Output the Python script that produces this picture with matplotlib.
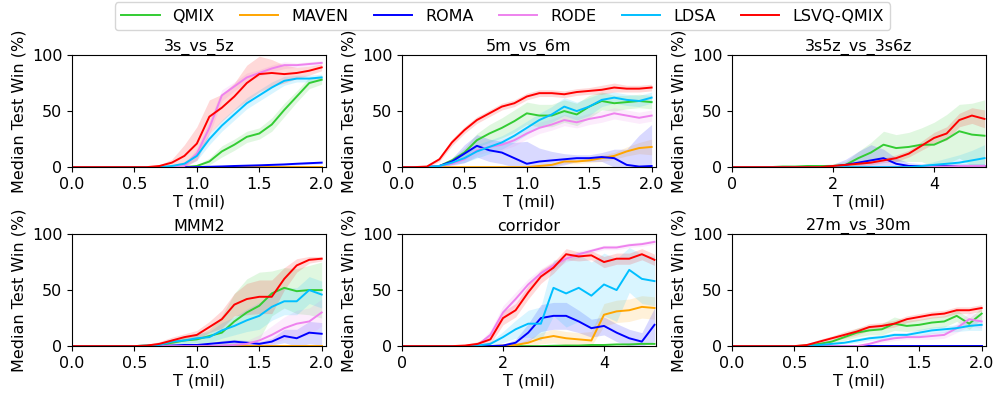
import matplotlib
matplotlib.use("Agg")
import matplotlib.pyplot as plt
import numpy as np

# algoritmalar ve renkleri
algos = ["QMIX", "MAVEN", "ROMA", "RODE", "LDSA", "LSVQ-QMIX"]
colors = ["#33cc33", "#ffa500", "#0000ff", "#ee82ee", "#00bfff", "#ff0000"]
titles = ["3s_vs_5z", "5m_vs_6m", "3s5z_vs_3s6z", "MMM2", "corridor", "27m_vs_30m"]

# zaman eksenleri (milyon adim)
t2 = [0.0, 0.1, 0.2, 0.3, 0.4, 0.5, 0.6, 0.7, 0.8, 0.9, 1.0,
      1.1, 1.2, 1.3, 1.4, 1.5, 1.6, 1.7, 1.8, 1.9, 2.0]
t5 = [0.0, 0.25, 0.5, 0.75, 1.0, 1.25, 1.5, 1.75, 2.0, 2.25, 2.5,
      2.75, 3.0, 3.25, 3.5, 3.75, 4.0, 4.25, 4.5, 4.75, 5.0]

# --- 3s_vs_5z ---
p1_qmix = [0]*10 + [1, 5, 14, 20, 27, 30, 38, 51, 63, 75, 78]
p1_qmix_sd = [0]*10 + [1, 3, 5, 5, 5, 5, 6, 6, 5, 5, 4]
p1_maven = [0]*21
p1_maven_sd = [0]*21
p1_roma = [0]*11 + [0.3, 0.6, 1, 1.3, 1.6, 2, 2.4, 3, 3.5, 4]
p1_roma_sd = [0]*11 + [0.3, 0.5, 0.5, 0.5, 0.5, 0.8, 0.8, 1, 1, 1]
p1_rode = [0]*9 + [1, 12, 35, 64, 72, 80, 84, 88, 91, 91, 92, 93]
p1_rode_sd = [0]*9 + [1, 5, 6, 5, 4, 4, 3, 3, 3, 2, 2, 2]
p1_ldsa = [0]*8 + [1, 3, 10, 25, 37, 47, 57, 64, 71, 77, 79, 79, 80]
p1_ldsa_sd = [0]*8 + [1, 2, 4, 5, 5, 5, 5, 5, 5, 4, 3, 3, 3]
p1_lsvq = [0]*7 + [1, 4, 10, 21, 45, 53, 63, 75, 83, 84, 83, 84, 86, 89]
p1_lsvq_sd = [0]*7 + [1, 3, 10, 15, 15, 12, 12, 16, 16, 12, 8, 5, 4, 3]

# --- 5m_vs_6m ---
p2_qmix = [0, 0, 0, 1, 6, 13, 24, 30, 35, 41, 48, 46, 46, 50, 47, 54, 59, 57, 58, 59, 58]
p2_qmix_sd = [0, 0, 0, 1, 2, 4, 6, 8, 9, 10, 10, 10, 10, 10, 10, 10, 8, 7, 6, 6, 6]
p2_maven = [0]*10 + [0, 1, 2, 5, 5, 6, 8, 10, 14, 17, 18]
p2_maven_sd = [0]*10 + [0, 1, 1, 2, 2, 2, 3, 3, 4, 5, 7]
p2_roma = [0, 0, 0, 1, 5, 12, 19, 15, 13, 8, 3, 5, 6, 7, 8, 8, 9, 8, 2, 0.5, 1]
p2_roma_sd = [0, 0, 0, 1, 3, 8, 10, 10, 10, 14, 20, 12, 8, 5, 3, 3, 4, 8, 14, 28, 37]
p2_rode = [0, 0, 0, 1, 3, 7, 15, 18, 20, 24, 30, 35, 38, 42, 40, 43, 45, 48, 46, 44, 46]
p2_rode_sd = [0, 0, 0, 1, 2, 3, 4, 4, 5, 5, 5, 5, 5, 5, 5, 5, 5, 5, 5, 5, 5]
p2_ldsa = [0, 0, 0, 1, 4, 8, 14, 18, 22, 28, 35, 42, 47, 54, 50, 54, 60, 62, 60, 59, 62]
p2_ldsa_sd = [0, 0, 0, 1, 2, 4, 6, 6, 6, 6, 6, 6, 7, 8, 8, 8, 6, 5, 5, 5, 5]
p2_lsvq = [0, 0, 0.5, 7, 22, 33, 42, 48, 54, 57, 63, 66, 66, 65, 67, 68, 69, 71, 70, 70, 71]
p2_lsvq_sd = [0, 0, 0.5, 2, 3, 3, 3, 3, 3, 3, 3, 3, 3, 3, 3, 3, 4, 4, 3, 3, 3]

# --- 3s5z_vs_3s6z ---
p3_qmix = [0, 0, 0, 0, 0.5, 0.5, 1, 1, 1, 2, 8, 13, 20, 17, 18, 20, 20, 25, 32, 29, 28]
p3_qmix_sd = [0, 0, 0, 0, 1, 1, 1, 1, 2, 3, 6, 9, 12, 12, 13, 15, 20, 22, 24, 28, 32]
p3_maven = [0]*21
p3_maven_sd = [0]*21
p3_roma = [0]*8 + [0.5, 2, 4, 6, 8, 3, 1, 1, 1, 1, 1, 1, 1]
p3_roma_sd = [0]*8 + [2, 5, 10, 14, 8, 5, 3, 2, 2, 2, 2, 2, 2]
p3_rode = [0]*16 + [0.5, 0.5, 1, 1, 1]
p3_rode_sd = [0]*16 + [0.5, 0.5, 1, 1, 1]
p3_ldsa = [0]*15 + [1, 2, 3, 4, 6, 8]
p3_ldsa_sd = [0]*15 + [1, 3, 5, 7, 9, 12]
p3_lsvq = [0]*8 + [1, 2, 3, 4, 6, 8, 12, 19, 26, 30, 42, 46, 43]
p3_lsvq_sd = [0]*8 + [1, 1, 2, 2, 2, 3, 3, 4, 5, 6, 6, 7, 8]

# --- MMM2 ---
p4_qmix = [0, 0, 0, 0, 0, 0, 0.5, 1, 3, 5, 6, 9, 12, 22, 30, 36, 47, 52, 49, 50, 50]
p4_qmix_sd = [0, 0, 0, 0, 0, 0, 1, 1, 2, 3, 4, 6, 15, 25, 30, 30, 20, 18, 20, 22, 25]
p4_maven = [0]*21
p4_maven_sd = [0]*21
p4_roma = [0]*8 + [0.5, 1, 1, 2, 3, 4, 3, 2, 4, 9, 7, 12, 11]
p4_roma_sd = [0]*8 + [0.5, 1, 1, 1, 2, 2, 2, 2, 3, 6, 8, 10, 10]
p4_rode = [0]*12 + [0.5, 1, 2, 5, 10, 16, 20, 22, 30]
p4_rode_sd = [0]*12 + [1, 2, 3, 5, 8, 10, 12, 12, 12]
p4_ldsa = [0, 0, 0, 0, 0, 0, 0.5, 1, 4, 5, 7, 8, 14, 18, 23, 27, 35, 40, 40, 50, 46]
p4_ldsa_sd = [0, 0, 0, 0, 0, 0, 1, 1, 2, 3, 4, 5, 7, 8, 10, 12, 12, 12, 12, 12, 12]
p4_lsvq = [0]*6 + [0.5, 2, 5, 8, 10, 17, 24, 37, 42, 44, 44, 60, 72, 77, 78]
p4_lsvq_sd = [0, 0, 0, 0, 0, 1, 1, 2, 3, 3, 4, 5, 8, 10, 14, 15, 15, 10, 6, 3, 2]

# --- corridor ---
p5_qmix = [0]*12 + [0.3, 0.5, 0.5, 1, 1, 1.5, 1.5, 2, 2]
p5_qmix_sd = [0]*12 + [0.3, 0.5, 0.5, 0.5, 0.5, 0.5, 0.5, 0.5, 0.5]
p5_maven = [0]*8 + [0.5, 1, 3, 7, 9, 7, 6, 5, 28, 31, 32, 35, 34]
p5_maven_sd = [0]*8 + [1, 1, 3, 5, 6, 6, 6, 8, 10, 10, 10, 10, 10]
p5_roma = [0]*8 + [0.5, 3, 12, 25, 27, 27, 22, 16, 18, 12, 7, 4, 19]
p5_roma_sd = [0]*8 + [1, 3, 8, 12, 12, 12, 10, 8, 8, 8, 8, 8, 15]
p5_rode = [0]*6 + [1, 10, 30, 42, 55, 65, 72, 78, 82, 85, 88, 88, 90, 91, 93]
p5_rode_sd = [0]*6 + [1, 4, 6, 6, 5, 4, 4, 3, 3, 2, 2, 2, 2, 2, 2]
p5_ldsa = [0]*6 + [0.5, 2, 8, 15, 20, 20, 52, 47, 52, 45, 55, 50, 68, 60, 58]
p5_ldsa_sd = [0]*6 + [1, 2, 5, 8, 12, 15, 25, 30, 30, 30, 28, 28, 20, 22, 22]
p5_lsvq = [0]*5 + [0.5, 2, 6, 25, 32, 48, 62, 70, 82, 80, 81, 75, 78, 78, 82, 77]
p5_lsvq_sd = [0]*5 + [1, 2, 4, 6, 6, 6, 6, 5, 5, 4, 4, 5, 5, 5, 5, 5]

# --- 27m_vs_30m ---
p6_qmix = [0, 0, 0, 0, 0, 0, 0.5, 2, 4, 8, 12, 14, 15, 20, 18, 19, 21, 22, 27, 20, 29]
p6_qmix_sd = [0]*6 + [1, 1, 2, 3, 4, 4, 5, 6, 5, 5, 5, 5, 5, 5, 5]
p6_maven = [0]*21
p6_maven_sd = [0]*21
p6_roma = [0]*21
p6_roma_sd = [0]*21
p6_rode = [0]*11 + [2, 5, 7, 8, 8, 9, 10, 16, 24, 22]
p6_rode_sd = [0]*11 + [1, 2, 2, 2, 2, 3, 3, 4, 6, 6]
p6_ldsa = [0]*7 + [1, 2, 3, 5, 7, 8, 10, 10, 12, 14, 15, 16, 18, 19]
p6_ldsa_sd = [0]*7 + [1, 1, 1, 2, 2, 2, 2, 2, 3, 3, 3, 3, 4, 5]
p6_lsvq = [0, 0, 0, 0, 0, 0, 1, 4, 7, 10, 13, 17, 18, 20, 24, 26, 28, 29, 32, 32, 34]
p6_lsvq_sd = [0]*5 + [0.5, 1, 2, 2, 3, 3, 3, 3, 3, 3, 3, 3, 3, 3, 3, 3]

panels = [
    (t2, [p1_qmix, p1_maven, p1_roma, p1_rode, p1_ldsa, p1_lsvq],
     [p1_qmix_sd, p1_maven_sd, p1_roma_sd, p1_rode_sd, p1_ldsa_sd, p1_lsvq_sd]),
    (t2, [p2_qmix, p2_maven, p2_roma, p2_rode, p2_ldsa, p2_lsvq],
     [p2_qmix_sd, p2_maven_sd, p2_roma_sd, p2_rode_sd, p2_ldsa_sd, p2_lsvq_sd]),
    (t5, [p3_qmix, p3_maven, p3_roma, p3_rode, p3_ldsa, p3_lsvq],
     [p3_qmix_sd, p3_maven_sd, p3_roma_sd, p3_rode_sd, p3_ldsa_sd, p3_lsvq_sd]),
    (t2, [p4_qmix, p4_maven, p4_roma, p4_rode, p4_ldsa, p4_lsvq],
     [p4_qmix_sd, p4_maven_sd, p4_roma_sd, p4_rode_sd, p4_ldsa_sd, p4_lsvq_sd]),
    (t5, [p5_qmix, p5_maven, p5_roma, p5_rode, p5_ldsa, p5_lsvq],
     [p5_qmix_sd, p5_maven_sd, p5_roma_sd, p5_rode_sd, p5_ldsa_sd, p5_lsvq_sd]),
    (t2, [p6_qmix, p6_maven, p6_roma, p6_rode, p6_ldsa, p6_lsvq],
     [p6_qmix_sd, p6_maven_sd, p6_roma_sd, p6_rode_sd, p6_ldsa_sd, p6_lsvq_sd]),
]

fig = plt.figure(figsize=(9.95, 3.96), dpi=100)
lefts = [0.0724, 0.404, 0.7357]
bottoms = [0.578, 0.126]
fs = 11.5

for i, (t, meds, sds) in enumerate(panels):
    ax = fig.add_axes([lefts[i % 3], bottoms[i // 3], 0.2553, 0.283])
    t = np.array(t)
    for name, c, m, s in zip(algos, colors, meds, sds):
        m = np.array(m, dtype=float)
        s = np.array(s, dtype=float)
        ax.fill_between(t, np.clip(m - s, 0, 100), np.clip(m + s, 0, 100),
                        color=c, alpha=0.15, linewidth=0)
        ax.plot(t, m, color=c, linewidth=1.4, label=name)
    ax.set_ylim(0, 100)
    ax.set_yticks([0, 50, 100])
    if t[-1] > 3:
        ax.set_xlim(0, 5.03)
        ax.set_xticks([0, 2, 4])
    else:
        ax.set_xlim(0, 2.035)
        ax.set_xticks([0.0, 0.5, 1.0, 1.5, 2.0])
    ax.tick_params(labelsize=fs)
    ax.set_title(titles[i], fontsize=fs, pad=2)
    ax.set_xlabel("T (mil)", fontsize=fs, labelpad=2)
    ax.set_ylabel("Median Test Win (%)", fontsize=fs, labelpad=4)
    if i == 0:
        handles, labels = ax.get_legend_handles_labels()

fig.legend(handles, labels, loc="upper center", bbox_to_anchor=(0.505, 1.0),
           ncol=6, fontsize=fs, handlelength=2.4, columnspacing=1.6,
           borderaxespad=0.15)

plt.savefig("out.png", dpi=100)
